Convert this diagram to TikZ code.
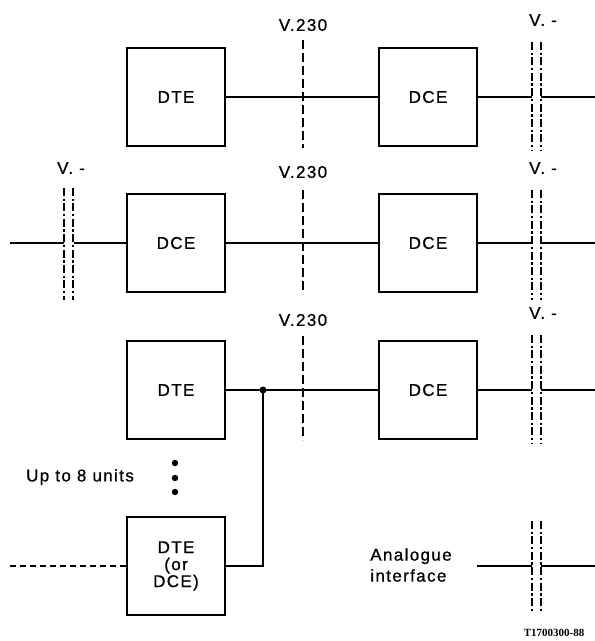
\documentclass[tikz,border=0pt]{standalone}
\usepackage{fontspec}
\setmainfont{Liberation Sans}[LetterSpace=8, FakeBold=0.8]
\newfontfamily\refserif{Liberation Serif}
\begin{document}
\begin{tikzpicture}[
    x=1pt, y=-1pt,
    unit/.style={draw, line width=2.2pt, minimum width=98pt, minimum height=98pt, inner sep=0pt, align=center, font=\fontsize{17}{19}\selectfont},
    link/.style={line width=1.6pt},
    v230/.style={line width=2.2pt, dash pattern=on 9pt off 4pt},
    vdash/.style={line width=2.4pt, dash pattern=on 8pt off 2.5pt on 2.4pt off 2.5pt},
    lbl/.style={font=\fontsize{17}{20}\selectfont, inner sep=0pt}
]
\useasboundingbox (0,0) rectangle (595,641);

% units
\node[unit] (dte1) at (176,97)  {DTE};
\node[unit] (dce1) at (428,97)  {DCE};
\node[unit] (dce2) at (176,243) {DCE};
\node[unit] (dce3) at (428,243) {DCE};
\node[unit] (dte3) at (176,390) {DTE};
\node[unit] (dce4) at (428,390) {DCE};
\node[unit] (dte4) at (176,566) {DTE\\[-2pt](or\\[-2pt]DCE)};

% interface points
\coordinate (a1) at (532,97);  \coordinate (b1) at (541,97);  \coordinate (e1) at (595,97);
\coordinate (e2) at (10,243);  \coordinate (a2) at (64,243);  \coordinate (b2) at (74,243);
\coordinate (a3) at (532,243); \coordinate (b3) at (541,243); \coordinate (e3) at (595,243);
\coordinate (a4) at (532,390); \coordinate (b4) at (541,390); \coordinate (e4) at (595,390);
\coordinate (e5) at (10,566);
\coordinate (s5) at (477,566); \coordinate (a5) at (532,566); \coordinate (b5) at (541,566); \coordinate (e6) at (595,566);
\coordinate (bus) at (263,390);

% V.230 interfaces
\foreach \ya/\yb/\yl in {40/148/25, 190/294/172, 336/440/320}{
  \draw[v230] (303,\ya) -- (303,\yb);
  \node[lbl] at (303,\yl) {V.230};
}

% V. - interfaces
\foreach \xx/\ya/\yb in {532/42/150, 532/190/300, 532/335/443, 64/188/300, 532/521/612}{
  \draw[vdash] (\xx,\ya) -- (\xx,\yb);
  \draw[vdash] (\xx+9,\ya) -- (\xx+9,\yb);
}
\node[lbl] (v1) at (543,20)  {V. -};
\node[lbl] (v2) at (543,168) {V. -};
\node[lbl] (v3) at (543,313) {V. -};
\node[lbl] (v4) at (71,168)  {V. -};

% links
\draw[link] (dte1) -- (dce1);
\draw[link] (dce1) -- (a1);
\draw[link] (b1) -- (e1);
\draw[link] (e2) -- (a2);
\draw[link] (b2) -- (dce2);
\draw[link] (dce2) -- (dce3);
\draw[link] (dce3) -- (a3);
\draw[link] (b3) -- (e3);
\draw[link] (dte3) -- (dce4);
\draw[link] (dce4) -- (a4);
\draw[link] (b4) -- (e4);
\draw[link] (dte4.east |- 0,566) -| (bus);
\fill (bus) circle (3.5pt);
\draw[link, dash pattern=on 6pt off 4pt] (e5) -- (dte4.west |- 0,566);
\draw[link] (s5) -- (a5);
\draw[link] (b5) -- (e6);

% up to 8 units
\foreach \yy in {463,478,492}
  \fill (175,\yy) circle (3.2pt);
\node[lbl] (upto) at (80,477) {Up to 8 units};
\node[lbl, align=left, font=\fontsize{17}{21}\selectfont] (ana) at (411,565) {Analogue\\interface};

\node[inner sep=0pt, font=\refserif\bfseries\fontsize{11}{13}\selectfont] (ref) at (554,633) {T1700300-88};
\end{tikzpicture}
\end{document}
